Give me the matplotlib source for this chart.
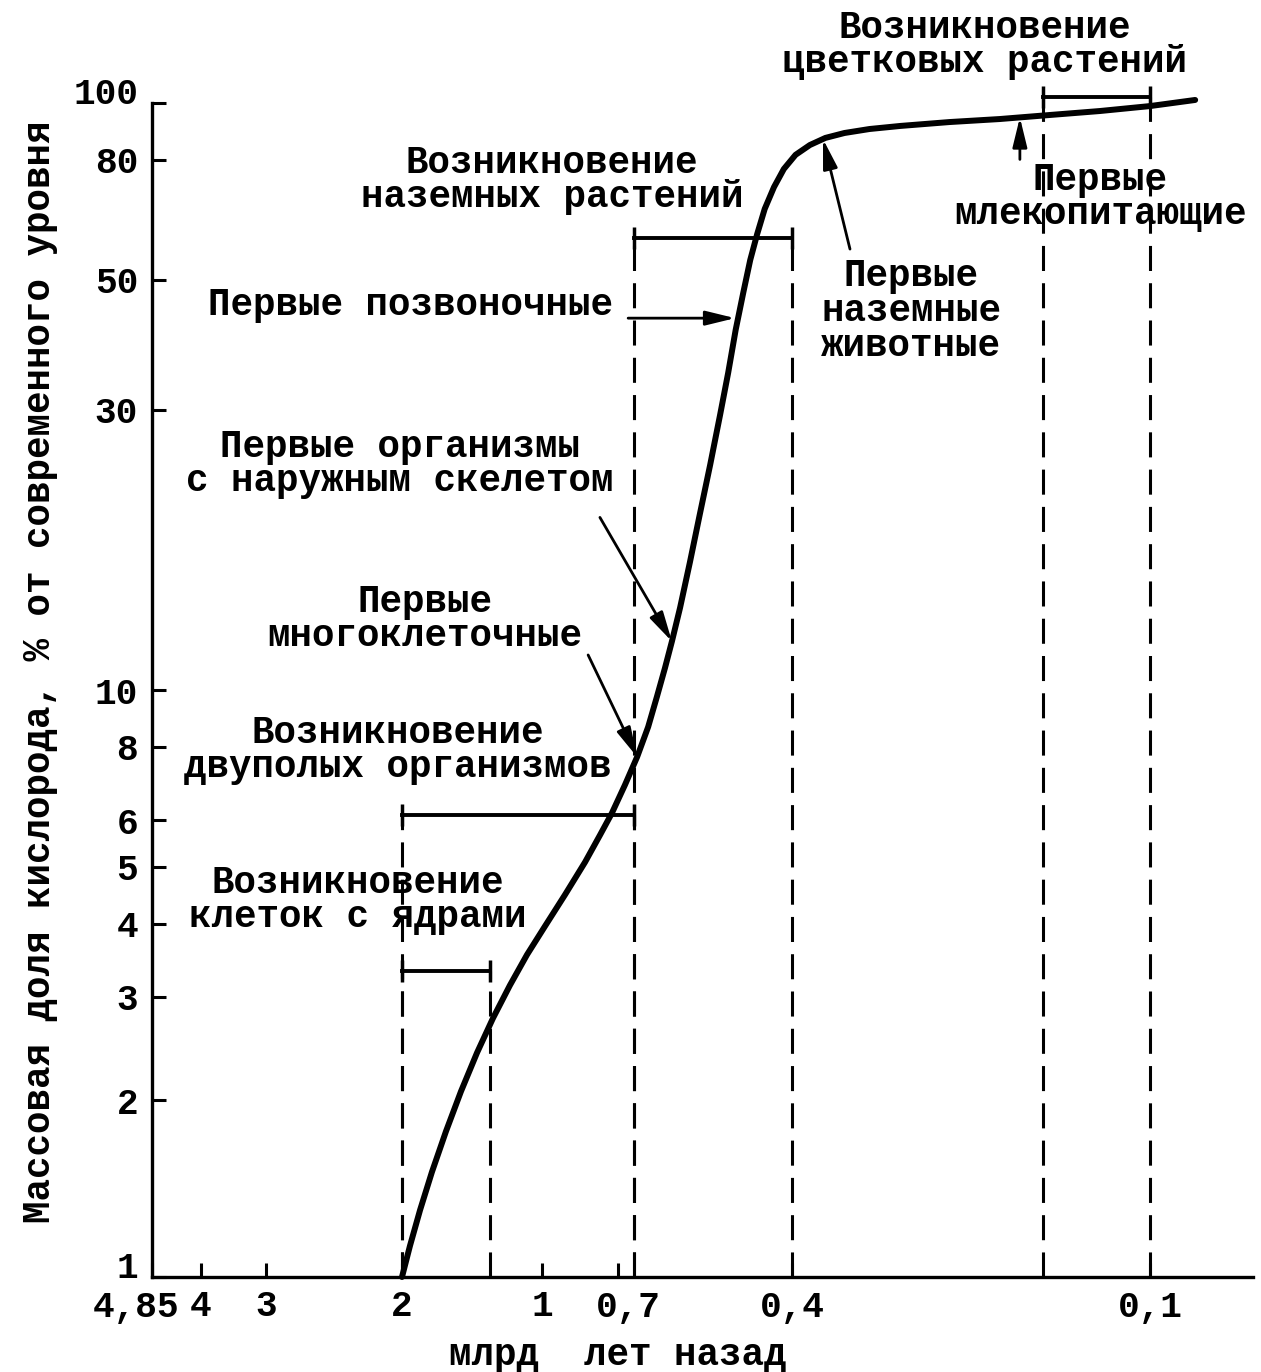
import numpy as np
import matplotlib
matplotlib.use('Agg')
import matplotlib.pyplot as plt
from matplotlib.transforms import ScaledTranslation

# кривая содержания кислорода: время (млрд лет назад) и % от современного уровня
time_bya = [2.000, 1.943, 1.871, 1.786, 1.686, 1.579, 1.464, 1.350, 1.229, 1.107,
            0.988, 0.909, 0.830, 0.771, 0.724, 0.688, 0.667, 0.648, 0.633, 0.619,
            0.607, 0.593, 0.576, 0.559, 0.541, 0.524, 0.510, 0.497, 0.484, 0.472,
            0.460, 0.447, 0.431, 0.414, 0.397, 0.385, 0.372, 0.356, 0.335, 0.309,
            0.268, 0.226, 0.184, 0.142, 0.100, 0.062]
oxygen_pct = [1.00, 1.13, 1.30, 1.51, 1.77, 2.07, 2.41, 2.76, 3.14, 3.54,
              3.96, 4.48, 5.09, 5.66, 6.17, 6.89, 7.69, 8.65, 9.73, 10.9,
              12.1, 13.8, 16.5, 19.9, 24.2, 29.4, 34.7, 41.1, 47.5, 54.0,
              59.8, 66.0, 71.9, 77.2, 81.6, 84.8, 87.2, 88.9, 90.3, 91.4,
              92.8, 93.9, 95.4, 96.9, 98.8, 101.2]

x_ticks = [4.85, 4, 3, 2, 1, 0.7, 0.4, 0.1]
x_labels = ['4,85', '4', '3', '2', '1', '0,7', '0,4', '0,1']
y_ticks = [1, 2, 3, 4, 5, 6, 8, 10, 30, 50, 80, 100]
y_labels = [str(v) for v in y_ticks]

# периоды возникновения (скобки с пунктиром до оси)
era_start = [2.0, 2.0, 0.672, 0.19]
era_end = [1.37, 0.672, 0.4, 0.1]
era_level = [3.32, 6.12, 58.9, 102.4]

# события, на которые указывают стрелки
event_time = [0.498, 0.607, 0.667, 0.374, 0.209]
event_o2 = [43.0, 12.1, 7.69, 86.8, 94.5]

# неравномерная шкала времени на оси (значение -> пиксель)
scale_val = np.array([4.85, 4, 3, 2, 1, 0.7, 0.4, 0.1, 0.0])
scale_pos = np.array([152, 201, 266, 402, 542, 618, 792, 1150, 1269], dtype=float)


def forward(x):
    return np.interp(x, scale_val[::-1], scale_pos[::-1])


def inverse(p):
    return np.interp(p, scale_pos, scale_val)


W, H = 1261, 1372
plt.rcParams['font.family'] = ['Liberation Mono', 'DejaVu Sans Mono']
plt.rcParams['font.weight'] = 'bold'
fig = plt.figure(figsize=(W / 100, H / 100), dpi=100)
ax = fig.add_axes([152 / W, 1 - 1277 / H, (1253 - 152) / W, (1277 - 103) / H])

ax.set_xscale('function', functions=(forward, inverse))
ax.set_yscale('log')
# пределы по возрастанию: сама шкала разворачивает ось (4,85 слева)
ax.set_xlim(0.0134, 4.85)
ax.set_ylim(1, 100)

ax.plot(time_bya, oxygen_pct, color='k', lw=4.3, solid_capstyle='round',
        solid_joinstyle='round', clip_on=False, zorder=5)

# скобки и пунктир
for s, e, lev in zip(era_start, era_end, era_level):
    ax.plot([s, e], [lev, lev], color='k', lw=2.8, marker='|', ms=16, mew=2.5,
            clip_on=False)
    for t in (s, e):
        ax.plot([t, t], [1, lev], color='k', lw=2.2,
                linestyle=(0, (8.2, 4.0)), clip_on=False)

# стрелки (смещение хвоста в пикселях)
tails = [(-107, 0), (-72, 124), (-49, 102), (27, -110), (0, -42)]
for t, o, (dx, dy) in zip(event_time, event_o2, tails):
    ax.annotate('', xy=(t, o), xytext=(dx, dy), textcoords='offset pixels',
                arrowprops=dict(arrowstyle='-|>,head_length=0.9,head_width=0.22',
                                color='k', lw=2.0, shrinkA=0, shrinkB=0,
                                mutation_scale=20))

ax.set_xticks(x_ticks, labels=x_labels)
ax.set_yticks(y_ticks, labels=y_labels)
ax.minorticks_off()
ax.tick_params(direction='in', length=10, width=2.2, labelsize=26, pad=10)
ax.tick_params(axis='x', pad=9)
for side in ['top', 'right']:
    ax.spines[side].set_visible(False)
for side in ['left', 'bottom']:
    ax.spines[side].set_linewidth(2.4)

# небольшие сдвиги подписей делений, как в оригинале
xl = ax.get_xticklabels()
xl[0].set_transform(xl[0].get_transform() + ScaledTranslation(-0.16, 0, fig.dpi_scale_trans))
xl[5].set_transform(xl[5].get_transform() + ScaledTranslation(0.10, 0, fig.dpi_scale_trans))
yl = ax.get_yticklabels()
yl[0].set_transform(yl[0].get_transform() + ScaledTranslation(0, 0.12, fig.dpi_scale_trans))
yl[-1].set_transform(yl[-1].get_transform() + ScaledTranslation(0, 0.13, fig.dpi_scale_trans))

# подписи (центр блока в пикселях от левого верхнего угла)
notes = [
    ('Возникновение\nцветковых растений', 985, 45),
    ('Возникновение\nназемных растений', 552, 180),
    ('Первые\nмлекопитающие', 1100, 197),
    ('Первые позвоночные', 411, 305),
    ('Первые\nназемные\nживотные', 911, 311),
    ('Первые организмы\nс наружным скелетом', 400, 464),
    ('Первые\nмногоклеточные', 425, 619),
    ('Возникновение\nдвуполых организмов', 398, 750),
    ('Возникновение\nклеток с ядрами', 358, 900),
]
for txt, px, py in notes:
    fig.text(px / W, 1 - py / H, txt, ha='center', va='center', fontsize=27,
             linespacing=0.95)

fig.text(618 / W, 1 - 1355 / H, 'млрд  лет назад', ha='center', va='center',
         fontsize=27)
fig.text(40 / W, 1 - 672 / H, 'Массовая доля кислорода, % от современного уровня',
         ha='center', va='center', rotation=90, fontsize=27)

fig.savefig('out.png', dpi=100, facecolor='white')
